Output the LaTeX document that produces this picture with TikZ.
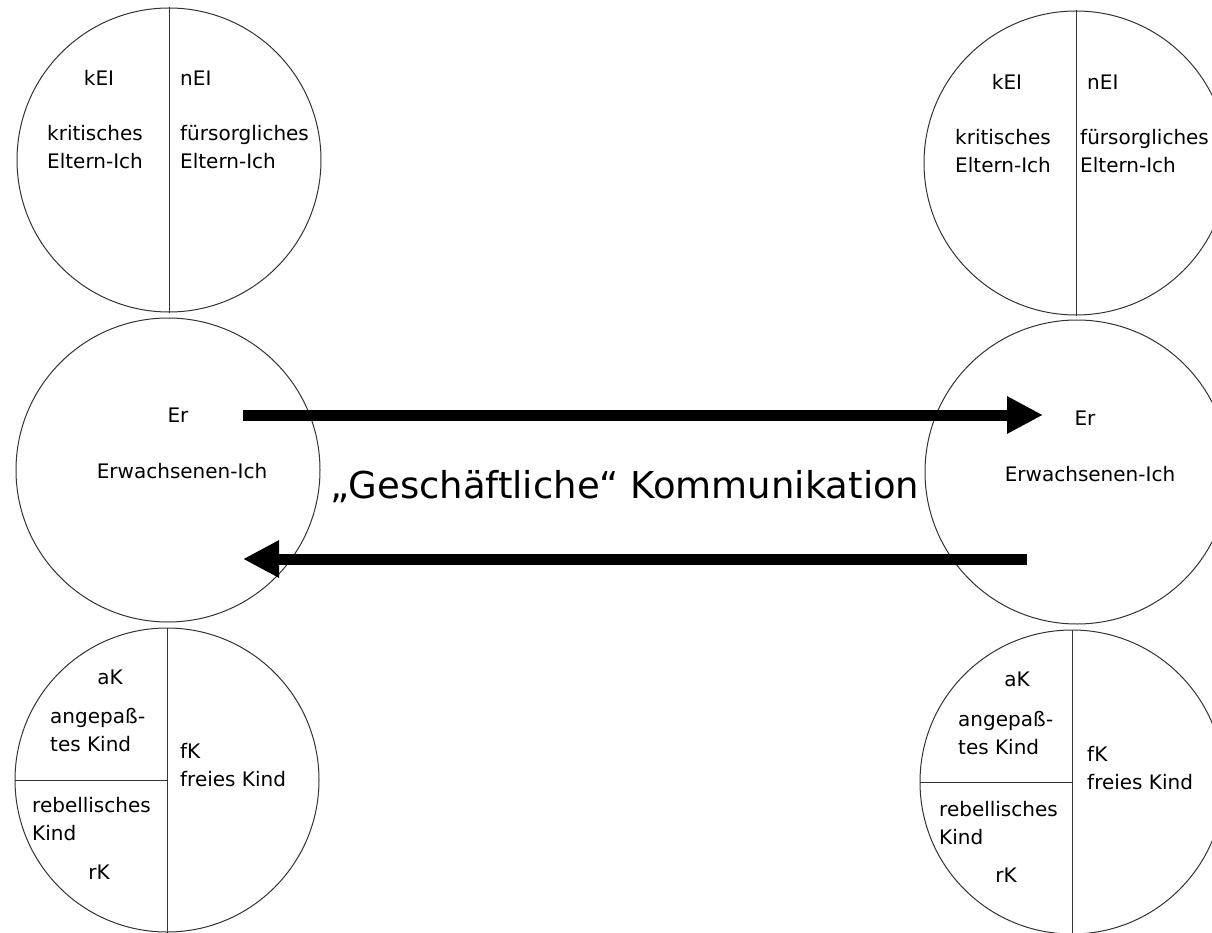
\documentclass[tikz,border=0pt]{standalone}
\usepackage{fontspec}
\setmainfont{DejaVu Sans}
\usetikzlibrary{arrows.meta}

\begin{document}
\begin{tikzpicture}[x=1pt,y=-1pt,
  ego/.style={draw=black!80, line width=1pt, circle, minimum size=304pt, inner sep=0pt},
  lbl/.style={inner sep=0pt, font=\fontsize{20}{28}\selectfont, align=left},
  divider/.style={draw=black!80, line width=1pt},
  flow/.style={line width=11pt, -{Triangle[length=36pt,width=35pt]}}]
\useasboundingbox (0,0) rectangle (1212,933);
\clip (0,0) rectangle (1212,933);
% left person
\node [ego] (lEltern) at (169,160) {};
\node [ego] (lErw) at (168,470) {};
\node [ego] (lKind) at (167,780) {};
\draw [divider] (lEltern.north) -- (lEltern.south);
\draw [divider] (lKind.north) -- (lKind.south);
\draw [divider] (lKind.west) -- (lKind.center);
\node [lbl] (lkEI) at (99,78) {kEI};
\node [lbl, anchor=west] (lnEI) at (180,78) {nEI};
\node [lbl, anchor=west] (lkrit) at (47,147) {kritisches\\Eltern-Ich};
\node [lbl, anchor=west] (lfuer) at (180,147) {fürsorgliches\\Eltern-Ich};
\node [lbl] (lEr) at (178,415) {Er};
\node [lbl] (lErwText) at (182,471) {Erwachsenen-Ich};
\node [lbl] (laK) at (110,677) {aK};
\node [lbl, anchor=west] (lang) at (50,730) {angepaß-\\tes Kind};
\node [lbl, anchor=west] (lfK) at (180,765) {fK\\freies Kind};
\node [lbl, anchor=west] (lreb) at (32,819) {rebellisches\\Kind};
\node [lbl] (lrK) at (99,872) {rK};
% right person
\node [ego] (rEltern) at (1076,163) {};
\node [ego] (rErw) at (1077,472) {};
\node [ego] (rKind) at (1072,782) {};
\draw [divider] (rEltern.north) -- (rEltern.south);
\draw [divider] (rKind.north) -- (rKind.south);
\draw [divider] (rKind.west) -- (rKind.center);
\node [lbl] (rkEI) at (1007,82) {kEI};
\node [lbl, anchor=west] (rnEI) at (1087,82) {nEI};
\node [lbl, anchor=west] (rkrit) at (955,151) {kritisches\\Eltern-Ich};
\node [lbl, anchor=west] (rfuer) at (1080,151) {fürsorgliches\\Eltern-Ich};
\node [lbl] (rEr) at (1085,418) {Er};
\node [lbl] (rErwText) at (1090,474) {Erwachsenen-Ich};
\node [lbl] (raK) at (1017,679) {aK};
\node [lbl, anchor=west] (rang) at (958,733) {angepaß-\\tes Kind};
\node [lbl, anchor=west] (rfK) at (1087,768) {fK\\freies Kind};
\node [lbl, anchor=west] (rreb) at (939,823) {rebellisches\\Kind};
\node [lbl] (rrK) at (1006,875) {rK};
% transactions
\coordinate (hinStart) at (243,415);
\coordinate (hinEnd) at (1043,415);
\coordinate (rueckStart) at (1027,559);
\coordinate (rueckEnd) at (243,559);
\draw [flow] (hinStart) -- (hinEnd);
\draw [flow] (rueckStart) -- (rueckEnd);
\node [inner sep=0pt, font=\fontsize{37}{44}\selectfont] (komm) at (625,487) {„Geschäftliche“ Kommunikation};
\end{tikzpicture}
\end{document}
